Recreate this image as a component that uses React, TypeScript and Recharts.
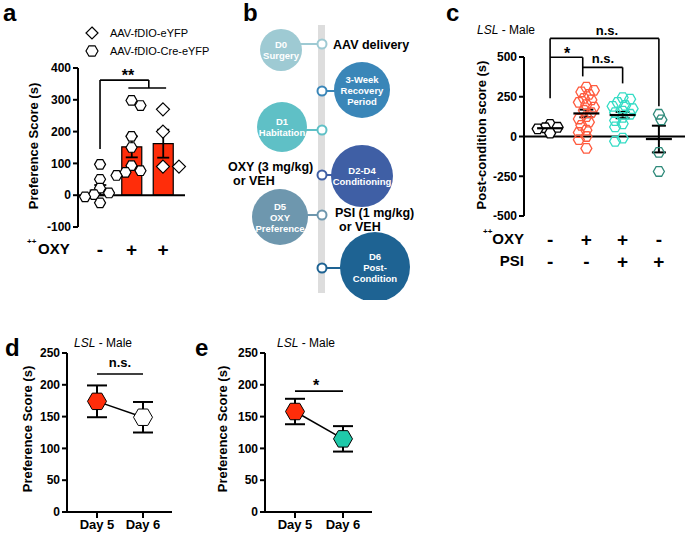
import React from "react";
import {
  ComposedChart,
  Bar,
  Cell,
  Scatter,
  XAxis,
  YAxis,
  ReferenceLine,
  ErrorBar,
  LineChart,
  Line,
} from "recharts";

const FONT = '"Liberation Sans", Arial, Helvetica, sans-serif';

// ---- panel a: preference score
const aGroups = [1, 2, 3];
const aOxySigns = ["-", "+", "+"];
const aMeans = [16, 152, 162];
const aSem = [16, 33, 44];
const aVehCre = [97, 50, 22, 7, 2, -5, -24];
const aOxyCre = [298, 282, 185, 150, 93, 77, 72, 62];
const aOxyYfp = [270, 200, 90, 90];
const aTicks = [-100, 0, 100, 200, 300, 400];

// ---- panel b: timeline
const bStages = [
  ["D0", "Surgery"],
  ["3-Week", "Recovery", "Period"],
  ["D1", "Habitation"],
  ["D2-D4", "Conditioning"],
  ["D5", "OXY", "Preference"],
  ["D6", "Post-", "Condition"],
];

// ---- panel c: post-condition score
const cGroups = [1, 2, 3, 4];
const cOxySigns = ["-", "+", "+", "-"];
const cPsiSigns = ["-", "-", "+", "+"];
const cVeh = [76, 58, 55, 48, 21];
const cOxy = [310, 290, 280, 265, 240, 230, 215, 200, 185, 165, 150, 125, 110, 90, 70, 40, 25, 0, -20, -75];
const cOxyPsi = [245, 235, 215, 195, 190, 175, 160, 150, 140, 120, 100, 80, 60, -10, -30];
const cPsi = [140, 105, -100, -220];
const cMeans = [52, 145, 135, -16];
const cSem = [10, 24, 20, 84];
const cTicks = [-500, -250, 0, 250, 500];

// ---- panels d / e: day 5 vs day 6
const days = ["Day 5", "Day 6"];
const dMeans = [174, 149];
const dSem = [25, 24];
const eMeans = [158, 115];
const eSem = [20, 20];
const deTicks = [0, 50, 100, 150, 200, 250];

const RED = "#ff2d0a";

function hexPath(cx: number, cy: number, r: number) {
  const pts = [0, 1, 2, 3, 4, 5].map((k) => {
    const a = (Math.PI / 3) * k;
    return `${(cx + r * Math.cos(a)).toFixed(2)},${(cy + r * Math.sin(a)).toFixed(2)}`;
  });
  return `M${pts.join("L")}Z`;
}

function diamondPath(cx: number, cy: number, r: number) {
  return `M${cx},${cy - r}L${cx + r},${cy}L${cx},${cy + r}L${cx - r},${cy}Z`;
}

// simple beeswarm: push points sideways until they stop overlapping
function swarmRows(group: number, values: number[], ppu: number, minDist: number, step: number) {
  const placed: [number, number][] = [];
  return values.map((v, i) => {
    const y = v * ppu;
    let dx = 0;
    for (let k = 0; k < 40; k++) {
      const m = Math.ceil(k / 2) * (k % 2 === 1 ? -1 : 1) * (i % 2 ? -1 : 1);
      const x = m * step;
      if (placed.every(([px, py]) => Math.hypot(px - x, py - y) >= minDist)) {
        dx = x;
        break;
      }
    }
    placed.push([dx, y]);
    return { x: group, y: v, dx };
  });
}

const pointShape =
  (kind: "hex" | "diamond", r: number, stroke: string, fill: string, sw = 1.2) =>
  (p: any) => {
    const cx = p.cx + (p.payload?.dx ?? 0);
    const d = kind === "hex" ? hexPath(cx, p.cy, r) : diamondPath(cx, p.cy, r);
    return <path d={d} fill={fill} stroke={stroke} strokeWidth={sw} />;
  };

const meanShape = (p: any) => (
  <line x1={p.cx - 13} x2={p.cx + 13} y1={p.cy} y2={p.cy} stroke="#000" strokeWidth={2.2} />
);

const tickStyle = { fill: "#000", fontSize: 12, fontWeight: 700 };
const axisLine = { stroke: "#000", strokeWidth: 2 };

function Txt({
  x, y, size = 12, bold = false, italic = false, anchor = "start", rotate = false, children,
}: any) {
  const tx = anchor === "middle" ? "-50%" : anchor === "end" ? "-100%" : "0";
  return (
    <div
      style={{
        position: "absolute",
        left: x,
        top: y,
        fontSize: size,
        fontWeight: bold ? 700 : 400,
        fontStyle: italic ? "italic" : "normal",
        whiteSpace: "nowrap",
        lineHeight: 1,
        transform: `translate(${tx},-50%)${rotate ? " rotate(-90deg)" : ""}`,
        transformOrigin: "center",
      }}
    >
      {children}
    </div>
  );
}

function seg(x1: any, y1: number, x2: any, y2: number, key: string) {
  return (
    <ReferenceLine
      key={key}
      segment={[{ x: x1, y: y1 }, { x: x2, y: y2 }]}
      stroke="#000"
      strokeWidth={1.6}
      ifOverflow="visible"
    />
  );
}

function PanelA() {
  const rows = aGroups.map((g, i) => ({ x: g, mean: aMeans[i], sem: aSem[i] }));
  const signTick = (p: any) => (
    <text x={p.x} y={p.y + 20} textAnchor="middle" dominantBaseline="central" fontSize={19} fontWeight={900}>
      {aOxySigns[aGroups.indexOf(p.payload.value)]}
    </text>
  );
  return (
    <div style={{ position: "absolute", left: 0, top: 0 }}>
      <ComposedChart width={200} height={260} data={rows} margin={{ top: 68, right: 15, bottom: 3, left: 38 }}>
        <XAxis dataKey="x" type="number" domain={[0.3, 3.7]} ticks={aGroups} axisLine={false} tickLine={false}
          tickSize={0} height={30} tick={signTick} interval={0} />
        <YAxis type="number" domain={[-100, 400]} ticks={aTicks} width={40} tick={tickStyle} axisLine={axisLine}
          tickLine={axisLine} tickSize={5} interval={0} />
        <Bar dataKey="mean" barSize={20} stroke="#000" strokeWidth={1.2} isAnimationActive={false}>
          {rows.map((r, i) => (
            <Cell key={i} fill={i === 0 ? "#fff" : RED} />
          ))}
          <ErrorBar dataKey="sem" width={6} stroke="#000" strokeWidth={1.8} direction="y" />
        </Bar>
        <ReferenceLine y={0} stroke="#000" strokeWidth={2} />
        <Scatter data={swarmRows(1, aVehCre, 0.317, 8, 3)} dataKey="y" isAnimationActive={false}
          shape={pointShape("hex", 5.5, "#000", "#fff")} />
        <Scatter data={swarmRows(2, aOxyCre, 0.317, 8.5, 3)} dataKey="y" isAnimationActive={false}
          shape={pointShape("hex", 5.5, "#000", "#fff")} />
        <Scatter data={swarmRows(3, aOxyYfp, 0.317, 14, 4)} dataKey="y" isAnimationActive={false}
          shape={pointShape("diamond", 6.5, "#000", "#fff")} />
        {seg(1, 145, 1, 362, "a1")}
        {seg(1, 362, 2.55, 362, "a2")}
        {seg(2.55, 362, 2.55, 337, "a3")}
        {seg(1.9, 337, 3.1, 337, "a4")}
      </ComposedChart>
    </div>
  );
}

function PanelB() {
  const dotY = [44, 91, 130, 175, 215, 268];
  const circY = [50, 90, 127, 176, 217, 267];
  const circDx = [-41, 40, -40, 40, -42, 53];
  const radius = [21, 28, 25, 31, 28, 35];
  const colors = ["#9ecad3", "#3a86b8", "#5fc0c6", "#3f5fa5", "#6e97ae", "#1e6393"];
  const lineX = 322;
  return (
    <svg style={{ position: "absolute", left: 0, top: 0 }} width={460} height={300}>
      <rect x={318} y={25} width={7} height={268} fill="#dddddd" />
      {bStages.map((lines, i) => {
        const cx = lineX + circDx[i];
        const cy = circY[i];
        const lh = 11;
        const y0 = cy - ((lines.length - 1) * lh) / 2;
        return (
          <g key={i}>
            <line x1={lineX} y1={dotY[i]} x2={cx} y2={dotY[i]} stroke={colors[i]} strokeWidth={2} />
            <circle cx={cx} cy={cy} r={radius[i]} fill={colors[i]} />
            <circle cx={lineX} cy={dotY[i]} r={4.5} fill="#fff" stroke={colors[i]} strokeWidth={2} />
            {lines.map((t, j) => (
              <text key={j} x={cx} y={y0 + j * lh} textAnchor="middle" dominantBaseline="central"
                fill="#fff" fontSize={9.5} fontWeight={700}>
                {t}
              </text>
            ))}
          </g>
        );
      })}
      <text x={333} y={45} dominantBaseline="central" fontSize={12.5} fontWeight={700}>AAV delivery</text>
      <text x={228} y={167} dominantBaseline="central" fontSize={12.5} fontWeight={700}>OXY (3 mg/kg)</text>
      <text x={233} y={181} dominantBaseline="central" fontSize={12.5} fontWeight={700}>or VEH</text>
      <text x={335} y={213} dominantBaseline="central" fontSize={12.5} fontWeight={700}>PSI (1 mg/kg)</text>
      <text x={339} y={227} dominantBaseline="central" fontSize={12.5} fontWeight={700}>or VEH</text>
    </svg>
  );
}

function PanelC() {
  const sets = [cVeh, cOxy, cOxyPsi, cPsi];
  const colors = ["#000", "#ff5b3f", "#34dcc5", "#2f8a7a"];
  const meanRows = cGroups.map((g, i) => ({ x: g, y: cMeans[i], sem: cSem[i] }));
  const signTick = (p: any) => {
    const i = cGroups.indexOf(p.payload.value);
    return (
      <g>
        <text x={p.x} y={p.y + 21} textAnchor="middle" dominantBaseline="central" fontSize={19} fontWeight={900}>
          {cOxySigns[i]}
        </text>
        <text x={p.x} y={p.y + 43} textAnchor="middle" dominantBaseline="central" fontSize={19} fontWeight={900}>
          {cPsiSigns[i]}
        </text>
      </g>
    );
  };
  return (
    <div style={{ position: "absolute", left: 450, top: 0 }}>
      <ComposedChart width={235} height={300} margin={{ top: 57, right: 0, bottom: 34, left: 34 }}>
        <XAxis dataKey="x" type="number" domain={[0.28, 4.72]} ticks={cGroups} axisLine={false} tickLine={false}
          tickSize={0} height={50} tick={signTick} interval={0} />
        <YAxis type="number" domain={[-500, 500]} ticks={cTicks} width={40} tick={tickStyle} axisLine={axisLine}
          tickLine={axisLine} tickSize={5} interval={0} />
        <ReferenceLine y={0} stroke="#000" strokeWidth={2} />
        {sets.map((vals, i) => (
          <Scatter key={i} data={swarmRows(cGroups[i], vals, 0.159, 6, 2.5)} dataKey="y" isAnimationActive={false}
            shape={pointShape("hex", 5.5, colors[i], i === 0 ? "#fff" : "none", 1.3)} />
        ))}
        <Scatter data={meanRows} dataKey="y" isAnimationActive={false} shape={meanShape}>
          <ErrorBar dataKey="sem" width={7} stroke="#000" strokeWidth={2} direction="y" />
        </Scatter>
        {seg(1, 240, 1, 617, "c1")}
        {seg(1, 617, 4, 617, "c2")}
        {seg(4, 617, 4, 190, "c3")}
        {seg(1, 498, 1.9, 498, "c4")}
        {seg(1.9, 498, 1.9, 378, "c5")}
        {seg(1.9, 435, 3, 435, "c6")}
        {seg(3, 435, 3, 334, "c7")}
      </ComposedChart>
    </div>
  );
}

function DayPanel({ left, means, sem, colors, bracketY, marginLeft }: any) {
  const rows = days.map((d, i) => ({ day: d, mean: means[i], sem: sem[i] }));
  const dot = (p: any) => (
    <path key={p.index} d={hexPath(p.cx, p.cy, 9.5)} fill={colors[p.index]} stroke="#000" strokeWidth={1} />
  );
  return (
    <div style={{ position: "absolute", left, top: 300 }}>
      <LineChart width={200} height={236} data={rows} margin={{ top: 53, right: 28, bottom: 2, left: marginLeft }}>
        <XAxis dataKey="day" padding={{ left: 30, right: 29 }} height={22} tick={{ ...tickStyle, fontSize: 13 }}
          axisLine={axisLine} tickLine={axisLine} tickSize={6} interval={0} />
        <YAxis type="number" domain={[0, 250]} ticks={deTicks} width={40} tick={tickStyle} axisLine={axisLine}
          tickLine={axisLine} tickSize={5} interval={0} />
        {seg("Day 5", bracketY, "Day 6", bracketY, "br")}
        <Line dataKey="mean" stroke="#000" strokeWidth={1.5} dot={dot} activeDot={false} isAnimationActive={false}>
          <ErrorBar dataKey="sem" width={10} stroke="#000" strokeWidth={2} direction="y" />
        </Line>
      </LineChart>
    </div>
  );
}

export default function App() {
  return (
    <div
      style={{
        position: "absolute",
        left: 0,
        top: 0,
        width: 685,
        height: 536,
        background: "#fff",
        fontFamily: FONT,
        color: "#000",
        overflow: "hidden",
      }}
    >
      <PanelB />
      <PanelA />
      <PanelC />
      <DayPanel left={0} means={dMeans} sem={dSem} colors={[RED, "#fff"]} bracketY={217} marginLeft={27} />
      <DayPanel left={200} means={eMeans} sem={eSem} colors={[RED, "#1fc9a9"]} bracketY={190} marginLeft={25} />

      {/* panel a text */}
      <Txt x={3} y={13} size={24} bold>a</Txt>
      <svg style={{ position: "absolute", left: 84, top: 25 }} width={16} height={34}>
        <path d={diamondPath(8, 8, 6)} fill="#fff" stroke="#000" strokeWidth={1.2} />
        <path d={hexPath(8, 26, 6)} fill="#fff" stroke="#000" strokeWidth={1.2} />
      </svg>
      <Txt x={110} y={33} size={11}>AAV-fDIO-eYFP</Txt>
      <Txt x={110} y={51} size={11}>AAV-fDIO-Cre-eYFP</Txt>
      <Txt x={128} y={76} size={16} bold anchor="middle">**</Txt>
      <Txt x={27} y={242} size={8} bold>++</Txt>
      <Txt x={38} y={248} size={15} bold>OXY</Txt>
      <Txt x={33} y={146} size={13} bold anchor="middle" rotate>Preference Score (s)</Txt>

      {/* panel b / c text */}
      <Txt x={243} y={13} size={24} bold>b</Txt>
      <Txt x={446} y={13} size={24} bold>c</Txt>
      <Txt x={477} y={30} size={12}><i>LSL</i> - Male</Txt>
      <Txt x={607} y={30} size={13} bold anchor="middle">n.s.</Txt>
      <Txt x={567} y={54} size={16} bold anchor="middle">*</Txt>
      <Txt x={603} y={58} size={13} bold anchor="middle">n.s.</Txt>
      <Txt x={483} y={232} size={8} bold>++</Txt>
      <Txt x={524} y={238} size={15} bold anchor="end">OXY</Txt>
      <Txt x={524} y={260} size={15} bold anchor="end">PSI</Txt>
      <Txt x={481} y={135} size={13} bold anchor="middle" rotate>Post-condition score (s)</Txt>

      {/* panels d / e text */}
      <Txt x={5} y={348} size={24} bold>d</Txt>
      <Txt x={74} y={343} size={12}><i>LSL</i> - Male</Txt>
      <Txt x={120} y={362} size={13} bold anchor="middle">n.s.</Txt>
      <Txt x={27} y={429} size={13} bold anchor="middle" rotate>Preference Score (s)</Txt>
      <Txt x={195} y={348} size={24} bold>e</Txt>
      <Txt x={277} y={343} size={12}><i>LSL</i> - Male</Txt>
      <Txt x={316} y={386} size={16} bold anchor="middle">*</Txt>
      <Txt x={222} y={429} size={13} bold anchor="middle" rotate>Preference Score (s)</Txt>
    </div>
  );
}
